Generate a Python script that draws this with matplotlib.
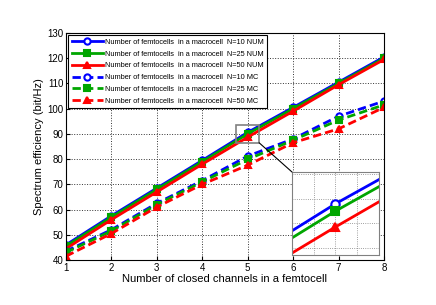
import matplotlib
matplotlib.use("Agg")
import matplotlib.pyplot as plt
from matplotlib.patches import Rectangle, ConnectionPatch

plt.rcParams['font.family'] = ['Liberation Sans', 'DejaVu Sans']

# data
channels = [1, 2, 3, 4, 5, 6, 7, 8]
num_10 = [46.0, 57.5, 68.5, 79.5, 90.6, 100.5, 110.5, 120.5]
num_25 = [45.5, 57.0, 68.0, 79.0, 90.0, 100.0, 110.0, 120.0]
num_50 = [44.5, 56.0, 67.0, 78.0, 88.7, 99.0, 109.5, 119.5]
mc_10 = [43.5, 52.0, 62.5, 71.5, 81.2, 88.0, 97.0, 103.0]
mc_25 = [43.0, 51.5, 62.0, 71.0, 79.9, 87.5, 95.5, 101.5]
mc_50 = [41.5, 50.5, 61.0, 70.0, 77.6, 86.5, 92.0, 100.5]

labels = [
    "Number of femtocells  in a macrocell  N=10 NUM",
    "Number of femtocells  in a macrocell  N=25 NUM",
    "Number of femtocells  in a macrocell  N=50 NUM",
    "Number of femtocells  in a macrocell  N=10 MC",
    "Number of femtocells  in a macrocell  N=25 MC",
    "Number of femtocells  in a macrocell  N=50 MC",
]
x_ticks = [1, 2, 3, 4, 5, 6, 7, 8]
y_ticks = [40, 50, 60, 70, 80, 90, 100, 110, 120, 130]

blue = (0, 0, 1)
green = (0, 0.65, 0)
red = (1, 0, 0)

series = [
    (num_10, blue, '-', 'o', 'white'),
    (num_25, green, '-', 's', green),
    (num_50, red, '-', '^', red),
    (mc_10, blue, '--', 'o', 'white'),
    (mc_25, green, '--', 's', green),
    (mc_50, red, '--', '^', red),
]


def draw_series(ax, ms):
    for (vals, col, ls, mk, face), lab in zip(series, labels):
        ax.plot(channels, vals, color=col, linestyle=ls, linewidth=2,
                marker=mk, markersize=ms, markerfacecolor=face,
                markeredgecolor=col, markeredgewidth=1.5, label=lab,
                dashes=(3, 1.5) if ls == '--' else (None, None))


fig = plt.figure(figsize=(4.36, 3.05), dpi=100)
ax = fig.add_axes([66 / 436, 1 - 260 / 305, 318 / 436, 227 / 305])
draw_series(ax, 4.5)
ax.set_xlim(1, 8)
ax.set_ylim(40, 130)
ax.set_xticks(x_ticks)
ax.set_yticks(y_ticks)
ax.tick_params(direction='in', labelsize=7, length=3, pad=2)
ax.grid(True, linestyle=':', color='#333333', linewidth=0.7)
ax.set_xlabel("Number of closed channels in a femtocell", fontsize=8, labelpad=1)
ax.set_ylabel("Spectrum efficiency (bit/Hz)", fontsize=8, labelpad=2)
ax.legend(loc='upper left', fontsize=5.3, frameon=True, fancybox=False,
          edgecolor='black', framealpha=1, handlelength=4.2,
          borderaxespad=0.3, labelspacing=0.62, handletextpad=0.3,
          borderpad=0.5)
ax.get_legend().get_frame().set_linewidth(0.8)

# zoom rectangle on the main axes
ax.add_patch(Rectangle((4.75, 86.5), 0.5, 7, fill=False, edgecolor='gray',
                       linewidth=1.2, zorder=5))

# inset
ins = fig.add_axes([292 / 436, 1 - 255 / 305, 87 / 436, 83 / 305])
draw_series(ins, 6)
ins.set_xlim(4.8, 5.2)
ins.set_ylim(86.4, 93.2)
ins.set_xticks([4.9, 5.0, 5.1])
ins.set_yticks([87, 89, 91, 93])
ins.tick_params(length=0, labelbottom=False, labelleft=False)
ins.grid(True, linestyle=':', color='gray', linewidth=0.6)
for sp in ins.spines.values():
    sp.set_color('gray')

con = ConnectionPatch(xyA=(5.25, 86.5), coordsA=ax.transData,
                      xyB=(0, 1), coordsB=ins.transAxes,
                      color='black', linewidth=0.8)
fig.add_artist(con)

fig.savefig("out.png", dpi=100)
